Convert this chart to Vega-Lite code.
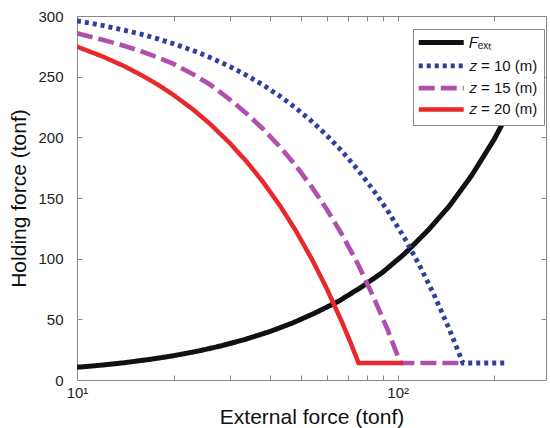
{
  "$schema": "https://vega.github.io/schema/vega-lite/v6.json",
  "width": 469,
  "height": 364,
  "autosize": {"type": "none"},
  "padding": {"left": 77, "top": 16, "right": 4, "bottom": 48},
  "config": {"view": {"stroke": null}, "font": "Liberation Sans"},
  "data": {
    "values": [
      {"series": "𝐹ₑₓₜ", "x": 10, "y": 10.5},
      {"series": "𝐹ₑₓₜ", "x": 12, "y": 12.3},
      {"series": "𝐹ₑₓₜ", "x": 14, "y": 14.2},
      {"series": "𝐹ₑₓₜ", "x": 17, "y": 17.1},
      {"series": "𝐹ₑₓₜ", "x": 20, "y": 20},
      {"series": "𝐹ₑₓₜ", "x": 24, "y": 24},
      {"series": "𝐹ₑₓₜ", "x": 28, "y": 28},
      {"series": "𝐹ₑₓₜ", "x": 33, "y": 33},
      {"series": "𝐹ₑₓₜ", "x": 40, "y": 40},
      {"series": "𝐹ₑₓₜ", "x": 47, "y": 47},
      {"series": "𝐹ₑₓₜ", "x": 55, "y": 55},
      {"series": "𝐹ₑₓₜ", "x": 65, "y": 64.5},
      {"series": "𝐹ₑₓₜ", "x": 77, "y": 76.5},
      {"series": "𝐹ₑₓₜ", "x": 90, "y": 89},
      {"series": "𝐹ₑₓₜ", "x": 105, "y": 104},
      {"series": "𝐹ₑₓₜ", "x": 125, "y": 124},
      {"series": "𝐹ₑₓₜ", "x": 145, "y": 143.5},
      {"series": "𝐹ₑₓₜ", "x": 170, "y": 168.5},
      {"series": "𝐹ₑₓₜ", "x": 200, "y": 198.5},
      {"series": "𝐹ₑₓₜ", "x": 240, "y": 238},

      {"series": "𝑧 = 10 (m)", "x": 10, "y": 296.0},
      {"series": "𝑧 = 10 (m)", "x": 12, "y": 292.2},
      {"series": "𝑧 = 10 (m)", "x": 14, "y": 288.4},
      {"series": "𝑧 = 10 (m)", "x": 16, "y": 284.7},
      {"series": "𝑧 = 10 (m)", "x": 18, "y": 280.9},
      {"series": "𝑧 = 10 (m)", "x": 20, "y": 277.1},
      {"series": "𝑧 = 10 (m)", "x": 23, "y": 271.5},
      {"series": "𝑧 = 10 (m)", "x": 26, "y": 265.8},
      {"series": "𝑧 = 10 (m)", "x": 30, "y": 258.3},
      {"series": "𝑧 = 10 (m)", "x": 34, "y": 250.7},
      {"series": "𝑧 = 10 (m)", "x": 38, "y": 243.2},
      {"series": "𝑧 = 10 (m)", "x": 43, "y": 233.8},
      {"series": "𝑧 = 10 (m)", "x": 48, "y": 224.4},
      {"series": "𝑧 = 10 (m)", "x": 54, "y": 213.1},
      {"series": "𝑧 = 10 (m)", "x": 60, "y": 201.8},
      {"series": "𝑧 = 10 (m)", "x": 67, "y": 188.6},
      {"series": "𝑧 = 10 (m)", "x": 75, "y": 173.5},
      {"series": "𝑧 = 10 (m)", "x": 84, "y": 156.5},
      {"series": "𝑧 = 10 (m)", "x": 94, "y": 137.7},
      {"series": "𝑧 = 10 (m)", "x": 105, "y": 117.0},
      {"series": "𝑧 = 10 (m)", "x": 117, "y": 94.4},
      {"series": "𝑧 = 10 (m)", "x": 130, "y": 69.9},
      {"series": "𝑧 = 10 (m)", "x": 145, "y": 41.6},
      {"series": "𝑧 = 10 (m)", "x": 159.7, "y": 14},
      {"series": "𝑧 = 10 (m)", "x": 217.6, "y": 14},

      {"series": "𝑧 = 15 (m)", "x": 10, "y": 285.7},
      {"series": "𝑧 = 15 (m)", "x": 12, "y": 280.5},
      {"series": "𝑧 = 15 (m)", "x": 14, "y": 275.5},
      {"series": "𝑧 = 15 (m)", "x": 16, "y": 270.5},
      {"series": "𝑧 = 15 (m)", "x": 18, "y": 265.5},
      {"series": "𝑧 = 15 (m)", "x": 20, "y": 260.5},
      {"series": "𝑧 = 15 (m)", "x": 23, "y": 252},
      {"series": "𝑧 = 15 (m)", "x": 26, "y": 243.5},
      {"series": "𝑧 = 15 (m)", "x": 30, "y": 231},
      {"series": "𝑧 = 15 (m)", "x": 34, "y": 219},
      {"series": "𝑧 = 15 (m)", "x": 38, "y": 207},
      {"series": "𝑧 = 15 (m)", "x": 43, "y": 192},
      {"series": "𝑧 = 15 (m)", "x": 48, "y": 177},
      {"series": "𝑧 = 15 (m)", "x": 54, "y": 159},
      {"series": "𝑧 = 15 (m)", "x": 60, "y": 141},
      {"series": "𝑧 = 15 (m)", "x": 67, "y": 120},
      {"series": "𝑧 = 15 (m)", "x": 75, "y": 96},
      {"series": "𝑧 = 15 (m)", "x": 84, "y": 68.5},
      {"series": "𝑧 = 15 (m)", "x": 93, "y": 41.5},
      {"series": "𝑧 = 15 (m)", "x": 102, "y": 14},
      {"series": "𝑧 = 15 (m)", "x": 159.7, "y": 14},

      {"series": "𝑧 = 20 (m)", "x": 10, "y": 274.7},
      {"series": "𝑧 = 20 (m)", "x": 12, "y": 266.7},
      {"series": "𝑧 = 20 (m)", "x": 14, "y": 258.8},
      {"series": "𝑧 = 20 (m)", "x": 16, "y": 250.8},
      {"series": "𝑧 = 20 (m)", "x": 18, "y": 242.9},
      {"series": "𝑧 = 20 (m)", "x": 20, "y": 234.9},
      {"series": "𝑧 = 20 (m)", "x": 23, "y": 223.0},
      {"series": "𝑧 = 20 (m)", "x": 26, "y": 211.0},
      {"series": "𝑧 = 20 (m)", "x": 30, "y": 195.1},
      {"series": "𝑧 = 20 (m)", "x": 34, "y": 179.2},
      {"series": "𝑧 = 20 (m)", "x": 38, "y": 163.3},
      {"series": "𝑧 = 20 (m)", "x": 43, "y": 143.4},
      {"series": "𝑧 = 20 (m)", "x": 48, "y": 123.5},
      {"series": "𝑧 = 20 (m)", "x": 54, "y": 99.6},
      {"series": "𝑧 = 20 (m)", "x": 60, "y": 75.7},
      {"series": "𝑧 = 20 (m)", "x": 67, "y": 47.8},
      {"series": "𝑧 = 20 (m)", "x": 71, "y": 31.9},
      {"series": "𝑧 = 20 (m)", "x": 75.5, "y": 14},
      {"series": "𝑧 = 20 (m)", "x": 104, "y": 14}
    ]
  },
  "layer": [
    {
      "mark": {"type": "line", "strokeCap": "butt", "strokeJoin": "miter", "clip": true},
      "encoding": {
        "x": {
          "field": "x", "type": "quantitative",
          "scale": {"type": "log", "domain": [10, 290], "nice": false},
          "axis": {
            "orient": "bottom", "grid": false,
            "values": [10, 20, 30, 40, 50, 60, 70, 80, 90, 100, 200],
            "labelExpr": "datum.value == 10 ? '10¹' : datum.value == 100 ? '10²' : ''",
            "tickSize": -5, "labelPadding": 10, "labelFlush": false,
            "domainColor": "#888", "tickColor": "#888",
            "labelFontSize": 15, "labelColor": "#222",
            "title": "External force (tonf)", "titleFontSize": 21,
            "titleFontWeight": "normal", "titleColor": "#111", "titlePadding": 6
          }
        },
        "y": {
          "field": "y", "type": "quantitative",
          "scale": {"domain": [0, 300], "nice": false},
          "axis": {
            "orient": "left", "grid": false,
            "values": [0, 50, 100, 150, 200, 250, 300],
            "tickSize": -5, "labelPadding": 19,
            "domainColor": "#888", "tickColor": "#888",
            "labelFontSize": 15, "labelColor": "#222",
            "title": "Holding force (tonf)", "titleFontSize": 21,
            "titleFontWeight": "normal", "titleColor": "#111", "titlePadding": 8
          }
        },
        "color": {
          "field": "series", "type": "nominal",
          "scale": {
            "domain": ["𝐹ₑₓₜ", "𝑧 = 10 (m)", "𝑧 = 15 (m)", "𝑧 = 20 (m)"],
            "range": ["#111111", "#2f3f9e", "#b050ae", "#e8282b"]
          },
          "legend": {
            "orient": "none", "legendX": 336, "legendY": 13, "title": null,
            "symbolType": "M-1.55,0H7.45", "symbolSize": 100,
            "labelFontSize": 15, "labelColor": "#111", "labelOffset": 34.8,
            "fillColor": "white", "strokeColor": "#888", "padding": 6, "rowPadding": 2.3
          }
        },
        "strokeDash": {
          "field": "series", "type": "nominal",
          "scale": {
            "domain": ["𝐹ₑₓₜ", "𝑧 = 10 (m)", "𝑧 = 15 (m)", "𝑧 = 20 (m)"],
            "range": [[1, 0], [4, 4], [16, 6], [1, 0]]
          },
          "legend": {
            "orient": "none", "legendX": 336, "legendY": 13, "title": null,
            "symbolType": "M-1.55,0H7.45", "symbolSize": 100,
            "labelFontSize": 15, "labelColor": "#111", "labelOffset": 34.8,
            "fillColor": "white", "strokeColor": "#888", "padding": 6, "rowPadding": 2.3
          }
        },
        "strokeWidth": {
          "field": "series", "type": "nominal",
          "scale": {
            "domain": ["𝐹ₑₓₜ", "𝑧 = 10 (m)", "𝑧 = 15 (m)", "𝑧 = 20 (m)"],
            "range": [5, 4.5, 4.5, 4]
          },
          "legend": {
            "orient": "none", "legendX": 336, "legendY": 13, "title": null,
            "symbolType": "M-1.55,0H7.45", "symbolSize": 100,
            "labelFontSize": 15, "labelColor": "#111", "labelOffset": 34.8,
            "fillColor": "white", "strokeColor": "#888", "padding": 6, "rowPadding": 2.3
          }
        }
      }
    },
    {
      "mark": {"type": "line", "opacity": 0},
      "encoding": {
        "x": {
          "field": "x", "type": "quantitative",
          "axis": {
            "orient": "top", "grid": false, "labels": false, "title": null,
            "values": [10, 20, 30, 40, 50, 60, 70, 80, 90, 100, 200],
            "tickSize": -5, "domainColor": "#888", "tickColor": "#888"
          }
        },
        "y": {
          "field": "y", "type": "quantitative",
          "axis": {
            "orient": "right", "grid": false, "labels": false, "title": null,
            "values": [0, 50, 100, 150, 200, 250, 300],
            "tickSize": -5, "domainColor": "#888", "tickColor": "#888"
          }
        }
      }
    }
  ],
  "resolve": {"axis": {"x": "independent", "y": "independent"}}
}
